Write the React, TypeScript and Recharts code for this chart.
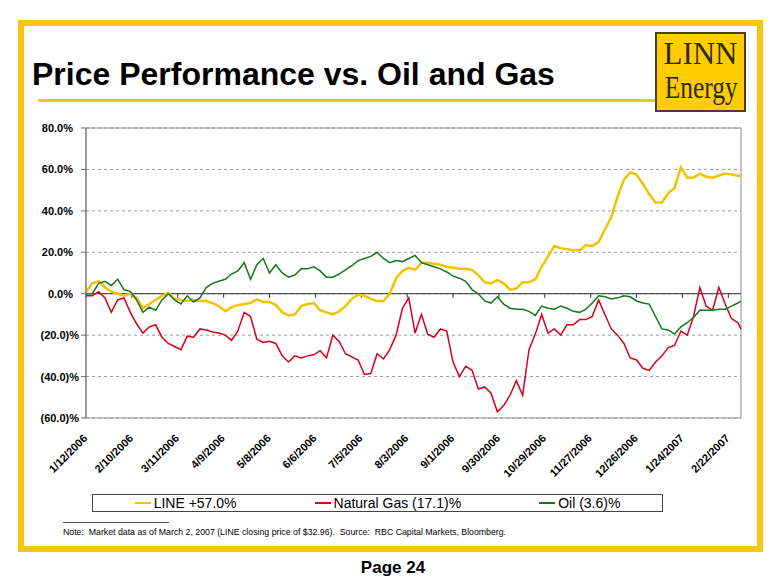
import React from 'react';
import { LineChart, Line, XAxis, YAxis, CartesianGrid, ReferenceLine, ReferenceArea } from 'recharts';

// x tick labels, one every 29 days starting 1/12/2006
const tickLabels = ['1/12/2006', '2/10/2006', '3/11/2006', '4/9/2006', '5/8/2006', '6/6/2006', '7/5/2006', '8/3/2006',
  '9/1/2006', '9/30/2006', '10/29/2006', '11/27/2006', '12/26/2006', '1/24/2007', '2/22/2007'];
const yTicks = [-60, -40, -20, 0, 20, 40, 60, 80];

// % change since 1/12/2006, sampled every 4 days (last point 3/2/2007)
const lineValues = [
  1, 5, 6, 3, 1, 0, -1, 0, -2, -7, -5, -3, -1, 0.5, -2.5, -3, -3.5, -3, -3.5, -3.5, -4.5, -6, -8.5, -6.5, -5.5, -5, -4.5,
  -2.7, -4, -4, -5.5, -9, -10.5, -10, -6, -5, -4.5, -8, -9, -10, -8.5, -6, -2.5, -0.5, -1, -2.5, -3.5, -3.5, 0, 7.5, 11, 12.5, 11.5,
  15, 15, 14.5, 14, 13, 12.5, 12, 12, 11.5, 9, 5.5, 5, 6.5, 5, 2, 2.5, 5.5, 5.5, 7, 13, 18, 23, 22, 21.5, 21, 21,
  23.5, 23, 25, 31, 37, 47, 55, 58.5, 57.5, 53, 48, 44, 44, 48.5, 51, 61, 56, 56, 58, 56.5, 56, 57, 58, 57.5, 57, 57,
];
const gasValues = [
  -1, -1, 1, -2, -9, -3, -2, -9, -14.5, -19, -16, -15, -21, -24, -25.5, -27, -20.5, -21, -17, -17.5, -18.5, -19, -20, -22.5, -18, -9, -11,
  -22, -23.5, -23, -24, -30, -33, -30, -31, -30, -29.5, -27.5, -31, -20, -23, -29, -30.5, -32, -39, -38.5, -29, -31.5, -27, -20, -7, -2, -19,
  -10, -19.5, -21, -17, -18, -33, -40, -35, -37, -46, -45, -48, -57, -54, -49, -42, -49, -27, -19.5, -10, -19, -17, -20, -15, -15, -12.5,
  -12.5, -11, -3, -10, -17, -20, -24, -31, -32, -36, -37, -33, -30, -26, -25, -18, -20, -11, 3, -6, -8, 3, -5, -12, -14, -17.1,
];
const oilValues = [
  0, 0, 5, 6, 4, 7, 2, 1, -3, -9, -6.5, -8, -3, 0, -3, -5, -1, -4, -2, 3, 5, 6, 7, 9.5, 11, 15, 7,
  14, 17, 10, 14, 10, 8, 9, 12, 12, 13, 11, 8, 8, 9.5, 11.5, 13.5, 16, 17, 18, 20, 17, 15, 16, 15.5, 17, 18.5,
  15, 14, 13, 12, 10.5, 8.5, 7.5, 6, 2, 0, -3.5, -4.5, -1.5, -5, -7, -7.5, -7.5, -8.5, -10.5, -6, -7, -7.5, -6, -7, -8.5, -9,
  -7.5, -4.5, -1, -1.5, -2.5, -2, -1, -1.5, -3.5, -4.5, -5, -11, -17, -17.5, -19.5, -16, -14, -11.5, -8, -8, -8, -7.5, -7.5, -6, -4.5, -3.6,
];

const LAST_DAY = 414;
const data = lineValues.map((v, i) => ({
  day: Math.min(i * 4, LAST_DAY),
  line: v,
  gas: gasValues[i],
  oil: oilValues[i],
}));
const tickDays = tickLabels.map((_, i) => i * 29);

const series = [
  { key: 'line', name: 'LINE +57.0%', color: '#F2C300', width: 2.5 },
  { key: 'gas', name: 'Natural Gas (17.1)%', color: '#D9001B', width: 1.5 },
  { key: 'oil', name: 'Oil (3.6)%', color: '#13791A', width: 1.5 },
];

const YELLOW = '#F6C710';
const ARIAL = "Arial, 'Liberation Sans', sans-serif";

const XTick = (props: any) => {
  const { x, y, payload } = props;
  const label = tickLabels[Math.round(payload.value / 29)];
  return (
    <g transform={`translate(${x + 2},${y + 19})`}>
      <text transform="rotate(-45)" textAnchor="end" fontSize={11} fontWeight="bold" fontFamily={ARIAL} fill="#000">
        {label}
      </text>
    </g>
  );
};

const YTick = (props: any) => {
  const { x, y, payload } = props;
  const v = payload.value;
  const label = v < 0 ? `(${(-v).toFixed(1)})%` : `${v.toFixed(1)}%`;
  return (
    <text x={v < 0 ? x : x - 6} y={y} dy={4} textAnchor="end" fontSize={11} fontWeight="bold" fontFamily={ARIAL} fill="#000">
      {label}
    </text>
  );
};

const App = () => {
  return (
    <div style={{ position: 'absolute', left: 0, top: 0, width: 780, height: 587, background: '#fff', fontFamily: ARIAL }}>
      <div style={{ position: 'absolute', left: 18, top: 20, width: 745, height: 532, border: `6px solid ${YELLOW}`, boxSizing: 'border-box' }} />

      <div style={{ position: 'absolute', left: 32, top: 58, fontSize: 32, fontWeight: 'bold', lineHeight: '32px', whiteSpace: 'nowrap', color: '#000' }}>
        Price Performance vs. Oil and Gas
      </div>
      <div style={{ position: 'absolute', left: 38, top: 99, width: 618, height: 3, background: YELLOW }} />

      <div style={{ position: 'absolute', left: 655, top: 32, width: 91, height: 80, background: '#FFCC00', border: '2px solid #4a3f1c', boxSizing: 'border-box',
        fontFamily: "'Times New Roman', 'Liberation Serif', serif", color: '#2e2a1e', textAlign: 'center' }}>
        <div style={{ fontSize: 31, lineHeight: '34px', marginTop: 3 }}>LINN</div>
        <div style={{ fontSize: 31, lineHeight: '34px', transform: 'scaleX(0.82)' }}>Energy</div>
      </div>

      <div style={{ position: 'absolute', left: 0, top: 0 }}>
        <LineChart width={780} height={480} data={data} margin={{ top: 128, right: 39, left: 26, bottom: 7 }}>
          <CartesianGrid vertical={false} strokeDasharray="3 3" stroke="#9a9a9a" />
          <XAxis type="number" dataKey="day" domain={[0, LAST_DAY]} ticks={tickDays} interval={0}
            tick={<XTick />} axisLine={false} tickLine={false} tickSize={0} height={55} />
          <YAxis type="number" domain={[-60, 80]} ticks={yTicks} interval={0} width={60}
            tick={<YTick />} axisLine={{ stroke: '#6f6f6f' }} tickLine={{ stroke: '#6f6f6f' }} tickSize={5} />
          <ReferenceArea x1={0} x2={LAST_DAY} y1={-60} y2={80} fill="none" fillOpacity={0} stroke="#8f8f8f" />
          <ReferenceLine y={0} stroke="#333" />
          {tickDays.map(d => (
            <ReferenceLine key={d} segment={[{ x: d, y: 0 }, { x: d, y: -2 }]} stroke="#333" />
          ))}
          {series.map(s => (
            <Line key={s.key} type="linear" dataKey={s.key} stroke={s.color} strokeWidth={s.width} dot={false} isAnimationActive={false} />
          ))}
        </LineChart>
      </div>

      <div style={{ position: 'absolute', left: 92, top: 494, width: 571, height: 18, border: '1px solid #444', boxSizing: 'border-box',
        display: 'flex', justifyContent: 'center', alignItems: 'center', gap: 78, fontSize: 14, color: '#000' }}>
        {series.map(s => (
          <div key={s.key} style={{ display: 'flex', alignItems: 'center', whiteSpace: 'nowrap' }}>
            <span style={{ display: 'inline-block', width: 16, height: 2, background: s.color, marginRight: 3 }} />
            {s.name}
          </div>
        ))}
      </div>

      <div style={{ position: 'absolute', left: 63, top: 522, width: 106, height: 1, background: '#555' }} />
      <div style={{ position: 'absolute', left: 63, top: 527, fontSize: 8.75, whiteSpace: 'pre', color: '#000' }}>
        {'Note:  Market data as of March 2, 2007 (LINE closing price of $32.96).  Source:  RBC Capital Markets, Bloomberg.'}
      </div>

      <div style={{ position: 'absolute', left: 343, width: 100, top: 558, textAlign: 'center', fontSize: 17, fontWeight: 'bold', color: '#000' }}>
        Page 24
      </div>
    </div>
  );
};

export default App;
